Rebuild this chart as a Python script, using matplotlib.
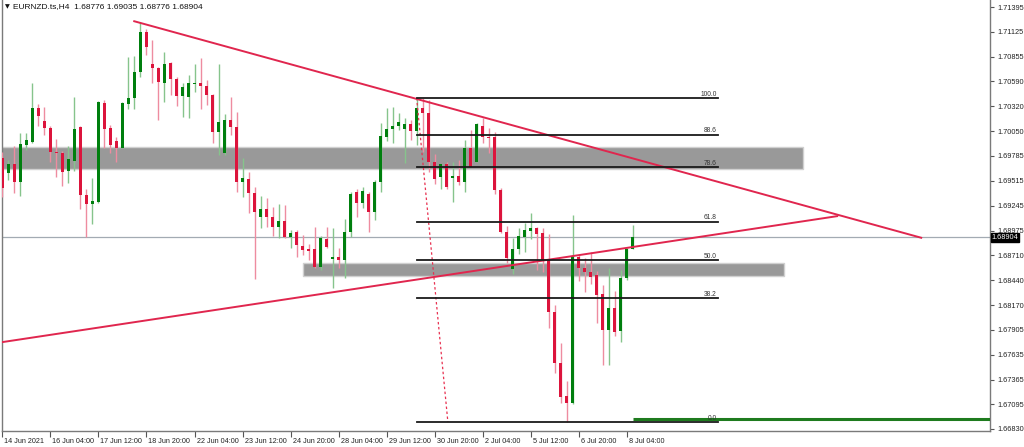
import matplotlib
matplotlib.use("Agg")
import matplotlib.pyplot as plt
import matplotlib.transforms as mtransforms
import numpy as np

# ---------------- data (EURNZD H4) ----------------
opens = [1.69761, 1.69599, 1.69697, 1.69502, 1.69902, 1.69935, 1.70302, 1.70162, 1.70086, 1.69826,
         1.69816, 1.69621, 1.69729, 1.70097, 1.69361, 1.69264, 1.69285, 1.70357, 1.70086, 1.69945,
         1.69870, 1.70346, 1.70411, 1.70692, 1.71125, 1.70779, 1.70735, 1.70573, 1.70789, 1.70616,
         1.70432, 1.70421, 1.70562, 1.70573, 1.70540, 1.70443, 1.70043, 1.69816, 1.70173, 1.70097,
         1.69502, 1.69534, 1.69383, 1.69123, 1.69210, 1.69123, 1.69015, 1.69080, 1.68907, 1.68961,
         1.68809, 1.68777, 1.68777, 1.68582, 1.68885, 1.68669, 1.68690, 1.68658, 1.68961, 1.69394,
         1.69275, 1.69372, 1.69177, 1.69502, 1.69989, 1.70075, 1.70108, 1.70075, 1.70129, 1.70054,
         1.70302, 1.70248, 1.69718, 1.69556, 1.69697, 1.69545, 1.69567, 1.69502, 1.69870, 1.69718,
         1.70108, 1.69989, 1.69989, 1.69415, 1.68961, 1.68560, 1.68777, 1.68907, 1.68972, 1.69004,
         1.68950, 1.68658, 1.68095, 1.67543, 1.67186, 1.67111, 1.68690, 1.68571, 1.68528, 1.68495,
         1.68290, 1.67900, 1.68138, 1.67890, 1.68463, 1.68776]
highs = [1.69826, 1.69740, 1.69891, 1.70032, 1.70032, 1.70573, 1.70346, 1.70313, 1.70108, 1.69967,
         1.69837, 1.69891, 1.70421, 1.70108, 1.69426, 1.69545, 1.70378, 1.70389, 1.70118, 1.69989,
         1.70367, 1.70854, 1.70865, 1.71233, 1.71157, 1.71038, 1.70746, 1.70908, 1.70800, 1.70638,
         1.70573, 1.70659, 1.70779, 1.70843, 1.70605, 1.70454, 1.70779, 1.70238, 1.70421, 1.70259,
         1.69761, 1.69610, 1.69448, 1.69350, 1.69329, 1.69231, 1.69264, 1.69253, 1.68982, 1.68982,
         1.68928, 1.68831, 1.69015, 1.68917, 1.69015, 1.69004, 1.68788, 1.69101, 1.69394, 1.69426,
         1.69448, 1.69394, 1.69523, 1.70140, 1.70302, 1.70313, 1.70248, 1.70194, 1.70173, 1.70411,
         1.70411, 1.70389, 1.69805, 1.69697, 1.69718, 1.69718, 1.69740, 1.69956, 1.70064, 1.70140,
         1.70194, 1.70086, 1.70043, 1.69437, 1.69026, 1.68896, 1.69004, 1.69058, 1.69166, 1.69015,
         1.69004, 1.68939, 1.68171, 1.67760, 1.67349, 1.69145, 1.68712, 1.68679, 1.68744, 1.68539,
         1.68387, 1.68571, 1.68322, 1.68550, 1.68788, 1.69035]
lows = [1.69339, 1.69523, 1.69383, 1.69350, 1.69848, 1.69924, 1.70108, 1.70010, 1.69718, 1.69556,
        1.69458, 1.69491, 1.69621, 1.69210, 1.68907, 1.69047, 1.69275, 1.69870, 1.69816, 1.69718,
        1.69870, 1.70292, 1.70292, 1.70638, 1.70876, 1.70573, 1.70173, 1.70367, 1.70443, 1.70324,
        1.70205, 1.70194, 1.70476, 1.70292, 1.70335, 1.69924, 1.69794, 1.69794, 1.70010, 1.69394,
        1.69339, 1.69166, 1.68452, 1.69004, 1.69015, 1.68917, 1.68896, 1.68896, 1.68788, 1.68690,
        1.68712, 1.68658, 1.68571, 1.68550, 1.68788, 1.68355, 1.68571, 1.68463, 1.68907, 1.69123,
        1.69220, 1.68961, 1.69091, 1.69394, 1.69945, 1.69924, 1.70064, 1.69707, 1.69956, 1.69902,
        1.69826, 1.69610, 1.69480, 1.69426, 1.69426, 1.69285, 1.69469, 1.69394, 1.69664, 1.69718,
        1.69924, 1.69816, 1.69372, 1.68950, 1.68625, 1.68506, 1.68723, 1.68744, 1.68885, 1.68550,
        1.68528, 1.67922, 1.67435, 1.67111, 1.66905, 1.67100, 1.68431, 1.68312, 1.68398, 1.67976,
        1.67522, 1.67522, 1.67835, 1.67771, 1.68441, 1.68776]
closes = [1.69437, 1.69697, 1.69502, 1.69913, 1.69956, 1.70302, 1.70216, 1.70086, 1.69826, 1.69816,
          1.69610, 1.69751, 1.70075, 1.69361, 1.69264, 1.69296, 1.70367, 1.70075, 1.69902, 1.69870,
          1.70357, 1.70411, 1.70692, 1.71125, 1.70962, 1.70735, 1.70584, 1.70779, 1.70616, 1.70432,
          1.70530, 1.70573, 1.70573, 1.70540, 1.70443, 1.70043, 1.70151, 1.70173, 1.70097, 1.69502,
          1.69545, 1.69383, 1.69177, 1.69210, 1.69123, 1.69015, 1.69080, 1.68907, 1.68950, 1.68820,
          1.68766, 1.68755, 1.68582, 1.68896, 1.68798, 1.68690, 1.68658, 1.68961, 1.69372, 1.69275,
          1.69404, 1.69177, 1.69502, 1.69999, 1.70075, 1.70108, 1.70151, 1.70129, 1.70054, 1.70302,
          1.70248, 1.69718, 1.69534, 1.69697, 1.69448, 1.69567, 1.69502, 1.69870, 1.69664, 1.70129,
          1.69989, 1.69978, 1.69415, 1.68961, 1.68679, 1.68777, 1.68917, 1.68982, 1.69004, 1.68939,
          1.68647, 1.68095, 1.67543, 1.67175, 1.67111, 1.68690, 1.68571, 1.68528, 1.68474, 1.68279,
          1.67900, 1.68138, 1.67879, 1.68463, 1.68777, 1.68904]

x_tick_labels = ["14 Jun 2021", "16 Jun 04:00", "17 Jun 12:00", "18 Jun 20:00", "22 Jun 04:00",
                 "23 Jun 12:00", "24 Jun 20:00", "28 Jun 04:00", "29 Jun 12:00", "30 Jun 20:00",
                 "2 Jul 04:00", "5 Jul 12:00", "6 Jul 20:00", "8 Jul 04:00"]
y_ticks = [1.71395, 1.71125, 1.70855, 1.70590, 1.70320, 1.70050, 1.69785, 1.69515, 1.69245,
           1.68975, 1.68710, 1.68440, 1.68170, 1.67905, 1.67635, 1.67365, 1.67095, 1.66830]

header = "EURNZD.ts,H4  1.68776 1.69035 1.68776 1.68904"
current_price = 1.68904

# Fibonacci retracement
fib_high = 1.70411
fib_low = 1.66905
fib_levels = [0.0, 38.2, 50.0, 61.8, 78.6, 88.6, 100.0]
fib_bar_start, fib_bar_end = 69, 119.2
fib_anchor_bars = [69, 74.2]

# trend lines (bar, price)
down_line_bars = [21.8, 153.2]
down_line_prices = [1.71244, 1.68896]
up_line_bars = [-0.5, 139.2]
up_line_prices = [1.67765, 1.69134]

# support / resistance zones
zone_bars = [(-0.5, 133.3), (50.0, 130.2)]
zone_prices = [(1.69642, 1.69880), (1.68485, 1.68631)]

# horizontal green line
green_level = 1.66937
green_bar_start = 105

# ---------------- drawing ----------------
W, H = 1024, 447
fig = plt.figure(figsize=(W / 100, H / 100), dpi=100)
fig.patch.set_facecolor("white")
ax = fig.add_axes([2 / W, 16 / H, 988 / W, 431 / H])

n = len(opens)
xs = np.arange(n)
xmin = (2 - 3) / 6.0 + 0.1
xmax = (990 - 3) / 6.0
ax.set_xlim(xmin, xmax)
ax.set_ylim(1.66808, 1.71471)

RED = "#DC143C"
RED_W = "#EE8CA0"
GREEN = "#007F0E"
GREEN_W = "#86C48C"

# zones
for (b0, b1), (p0, p1) in zip(zone_bars, zone_prices):
    ax.fill_between([b0, b1], p0, p1, facecolor="#999999", edgecolor="#d0d0d0",
                    linewidth=1.0, zorder=1)

# current price line
ax.axhline(current_price, color="#A3ABB3", lw=0.9, zorder=2)

# candles
for i in range(n):
    o, h, l, c = opens[i], highs[i], lows[i], closes[i]
    up = c >= o
    ax.vlines(xs[i], l, h, color=GREEN_W if up else RED_W, lw=1.0, zorder=3)
    bottom = min(o, c)
    height = max(abs(c - o), 0.00004)
    ax.bar(xs[i], height, bottom=bottom, width=0.55, color=GREEN if up else RED,
           linewidth=0, zorder=4)

# trend lines
ax.plot(down_line_bars, down_line_prices, color="#E0264E", lw=1.4, zorder=5,
        solid_capstyle="butt")
ax.plot(up_line_bars, up_line_prices, color="#E0264E", lw=1.4, zorder=5,
        solid_capstyle="butt")

# fibonacci
ax.plot(fib_anchor_bars, [fib_high, fib_low], color="#E83050", lw=0.9,
        linestyle=(0, (2, 2)), zorder=5)
for lev in fib_levels:
    price = fib_low + (fib_high - fib_low) * lev / 100.0
    ax.plot([fib_bar_start, fib_bar_end], [price, price], color="#1a1a1a", lw=1.3, zorder=6)
    ax.text(fib_bar_end - 0.2, price + 0.00005, f"{lev:.1f}", fontsize=4.8,
            family="Liberation Sans", color="#333333", ha="right", va="bottom", zorder=7)

# green horizontal line
ax.plot([green_bar_start, xmax], [green_level, green_level], color="#1E7B1E", lw=2.2,
        zorder=6, solid_capstyle="butt")

# axes styling
for side in ["left", "right", "bottom"]:
    ax.spines[side].set_color("#7a7a7a")
    ax.spines[side].set_linewidth(1.0)
ax.spines["top"].set_visible(False)

ax.yaxis.tick_right()
ax.set_yticks(y_ticks)
ax.set_yticklabels([f"{v:.5f}" for v in y_ticks])
ax.tick_params(axis="y", direction="out", length=3, width=0.8, colors="#555555",
               labelsize=5.3, labelcolor="#222222", pad=2)
for lab in ax.get_yticklabels():
    lab.set_family("Liberation Sans")

tick_pos = [8 * k for k in range(len(x_tick_labels))]
ax.set_xticks(tick_pos)
ax.set_xticklabels(x_tick_labels)
ax.tick_params(axis="x", direction="out", length=4, width=0.8, colors="#555555",
               labelsize=5.2, labelcolor="#222222", pad=1)
offset = mtransforms.ScaledTranslation(2 / 100, 0, fig.dpi_scale_trans)
for lab in ax.get_xticklabels():
    lab.set_ha("left")
    lab.set_family("Liberation Sans")
    lab.set_transform(lab.get_transform() + offset)

# current price tag
trans = mtransforms.blended_transform_factory(ax.transAxes, ax.transData)
ax.text(1.0015, current_price, f"{current_price:.5f}", transform=trans, fontsize=5.3,
        family="Liberation Sans", color="white", ha="left", va="center", zorder=10,
        bbox=dict(boxstyle="square,pad=0.12", facecolor="black", edgecolor="black"),
        clip_on=False)

# header
fig.text(5 / W, 1 - 7 / H, "\u25BC", fontsize=4.5, family="DejaVu Sans", color="#111111",
         ha="left", va="center")
fig.text(13 / W, 1 - 7 / H, header, fontsize=6.0, family="Liberation Sans",
         color="#111111", ha="left", va="center")

fig.savefig("out.png", dpi=100, facecolor="white")
